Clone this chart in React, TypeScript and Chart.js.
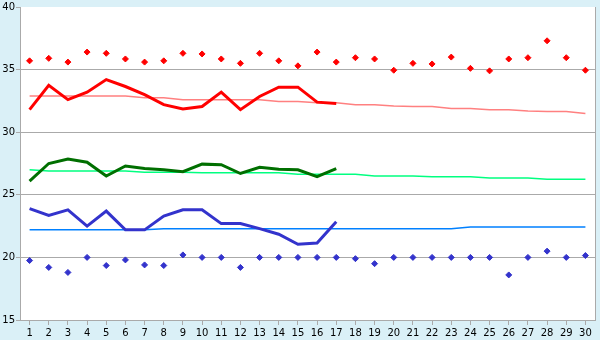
import React, { useEffect, useRef } from 'react';
import { Chart, registerables } from 'chart.js';

Chart.register(...registerables);

const days = ['1','2','3','4','5','6','7','8','9','10','11','12','13','14','15','16','17','18','19','20','21','22','23','24','25','26','27','28','29','30'];

const maxMarks = [35.7, 35.9, 35.6, 36.4, 36.3, 35.85, 35.6, 35.7, 36.3, 36.25, 35.85, 35.5, 36.3, 35.7, 35.3, 36.4, 35.6, 35.95, 35.85, 34.95, 35.5, 35.45, 36.0, 35.1, 34.9, 35.85, 35.95, 37.3, 35.95, 34.95];
const maxTemps = [31.8, 33.75, 32.6, 33.2, 34.2, 33.65, 33.0, 32.2, 31.85, 32.05, 33.2, 31.8, 32.85, 33.6, 33.6, 32.4, 32.3];
const maxNormal = [32.9, 32.9, 32.9, 32.9, 32.9, 32.9, 32.75, 32.75, 32.6, 32.6, 32.6, 32.6, 32.6, 32.45, 32.45, 32.35, 32.35, 32.2, 32.2, 32.1, 32.05, 32.05, 31.9, 31.9, 31.8, 31.8, 31.7, 31.65, 31.65, 31.5];
const meanTemps = [26.1, 27.5, 27.85, 27.6, 26.5, 27.3, 27.1, 27.0, 26.85, 27.45, 27.4, 26.7, 27.2, 27.05, 27.0, 26.45, 27.1];
const meanNormal = [27.0, 26.9, 26.9, 26.9, 26.9, 26.9, 26.8, 26.8, 26.8, 26.77, 26.77, 26.77, 26.77, 26.77, 26.65, 26.65, 26.65, 26.65, 26.5, 26.5, 26.5, 26.45, 26.45, 26.45, 26.35, 26.35, 26.35, 26.25, 26.25, 26.25];
const minTemps = [23.9, 23.35, 23.8, 22.5, 23.7, 22.2, 22.2, 23.3, 23.8, 23.8, 22.7, 22.7, 22.3, 21.85, 21.05, 21.15, 22.85];
const minNormal = [22.2, 22.2, 22.2, 22.2, 22.2, 22.2, 22.2, 22.28, 22.28, 22.28, 22.28, 22.28, 22.28, 22.28, 22.28, 22.28, 22.28, 22.28, 22.28, 22.28, 22.28, 22.28, 22.28, 22.43, 22.43, 22.43, 22.43, 22.43, 22.43, 22.43];
const minMarks = [19.75, 19.2, 18.8, 20.0, 19.35, 19.8, 19.4, 19.35, 20.2, 20.0, 20.0, 19.2, 20.0, 20.0, 20.0, 20.0, 20.0, 19.9, 19.5, 20.0, 20.0, 20.0, 20.0, 20.0, 20.0, 18.6, 20.0, 20.5, 20.0, 20.15];

const yMin = 15;
const yMax = 40;
const yStep = 5;

const plotPlugin = {
  id: 'plotFrame',
  beforeDraw(chart: any) {
    const { ctx, chartArea: a } = chart;
    ctx.save();
    ctx.fillStyle = '#ffffff';
    ctx.fillRect(a.left, a.top, a.right - a.left, a.bottom - a.top);
    ctx.restore();
  },
  afterDraw(chart: any) {
    const { ctx, chartArea: a } = chart;
    ctx.save();
    ctx.strokeStyle = '#aaaaaa';
    ctx.lineWidth = 1;
    ctx.beginPath();
    ctx.moveTo(a.right + 0.5, a.top);
    ctx.lineTo(a.right + 0.5, a.bottom);
    ctx.stroke();
    ctx.restore();
  },
};

export default function App() {
  const ref = useRef<HTMLCanvasElement>(null);

  useEffect(() => {
    document.body.style.margin = '0';
    if (!ref.current) return;
    const line = (data: number[], color: string, width: number, order: number) => ({
      data,
      borderColor: color,
      backgroundColor: color,
      borderWidth: width,
      pointRadius: 0,
      tension: 0,
      fill: false,
      order,
    });
    const marks = (data: number[], color: string, order: number) => ({
      data,
      borderColor: color,
      backgroundColor: color,
      showLine: false,
      pointStyle: 'rectRot',
      pointRadius: 3,
      pointBorderWidth: 1,
      order,
    });
    const chart = new Chart(ref.current, {
      type: 'line',
      data: {
        labels: days,
        datasets: [
          marks(maxMarks, '#ff0000', 1),
          line(maxTemps, '#ff0000', 3, 2),
          line(maxNormal, '#ff8080', 1.5, 5),
          line(meanTemps, '#006f00', 3, 3),
          line(meanNormal, '#00ff80', 1.5, 6),
          line(minTemps, '#3333cc', 3, 4),
          line(minNormal, '#0080ff', 1.5, 7),
          marks(minMarks, '#3333cc', 1),
        ] as any,
      },
      options: {
        responsive: false,
        animation: false,
        layout: { padding: { top: 5, right: 5, left: 0, bottom: 0 } },
        plugins: { legend: { display: false }, tooltip: { enabled: false } },
        scales: {
          x: {
            type: 'category',
            offset: true,
            grid: { offset: false, drawOnChartArea: false, drawTicks: true, tickLength: 5, color: '#aaaaaa' },
            border: { color: '#aaaaaa' },
            ticks: { autoSkip: false, maxRotation: 0, padding: 2, color: '#000', font: { family: 'DejaVu Sans', size: 10 } },
            afterFit: (s: any) => { s.height = 20; },
          },
          y: {
            min: yMin,
            max: yMax,
            grid: {
              color: (c: any) => (c.tick && c.tick.value === yMax ? 'rgba(0,0,0,0)' : '#aaaaaa'),
              tickColor: '#aaaaaa',
              tickLength: 4,
              drawTicks: true,
            },
            border: { color: '#aaaaaa' },
            ticks: { stepSize: yStep, padding: 1, color: '#000', font: { family: 'DejaVu Sans', size: 10 } },
            afterFit: (s: any) => { s.width = 20; },
          },
        },
      } as any,
      plugins: [plotPlugin],
    });
    return () => chart.destroy();
  }, []);

  return (
    <div style={{ width: 600, height: 340, background: '#daf0f7' }}>
      <canvas ref={ref} width={600} height={340} />
    </div>
  );
}
